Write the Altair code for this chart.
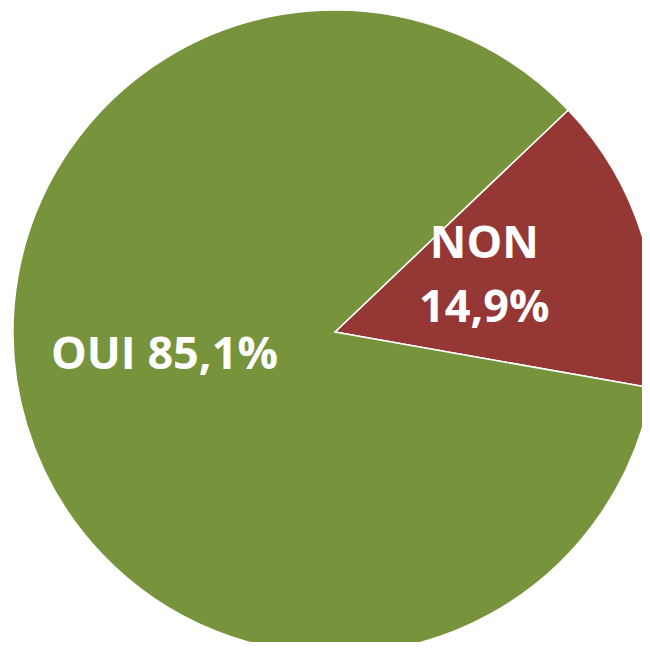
import altair as alt
import pandas as pd
import math

categories = ["NON", "OUI"]
values = [14.9, 85.1]
labels = ["NON\n14,9%", "OUI 85,1%"]
colors = ["#953735", "#77933C"]

df = pd.DataFrame({"cat": categories, "val": values, "label": labels, "order": [0, 1]})

start = math.radians(46.4)
cx, cy, r = 327, 324, 322

base = alt.Chart(df).encode(
    theta=alt.Theta("val:Q", stack=True, scale=alt.Scale(range=[start, start + 2 * math.pi])),
    order=alt.Order("order:Q"),
)

arcs = base.mark_arc(stroke="white", strokeWidth=1.5).encode(
    color=alt.Color("cat:N", scale=alt.Scale(domain=categories, range=colors), legend=None),
    x=alt.value(cx), y=alt.value(cy), radius=alt.value(r),
)

txt_style = dict(font="Open Sans", fontWeight="bold", fontSize=45, color="white",
                 align="center", baseline="middle", lineBreak="\n", lineHeight=64)

non_txt = base.mark_text(**txt_style, dx=0, dy=-43).encode(
    text=alt.condition(alt.datum.cat == "NON", "label:N", alt.value("")),
    x=alt.value(cx), y=alt.value(cy), radius=alt.value(156),
)

oui_txt = base.mark_text(**txt_style, dx=-3, dy=-28).encode(
    text=alt.condition(alt.datum.cat == "OUI", "label:N", alt.value("")),
    x=alt.value(cx), y=alt.value(cy), radius=alt.value(175),
)

chart = alt.layer(arcs, non_txt, oui_txt).properties(
    width=634, height=634, autosize=alt.AutoSizeParams(type="none"), padding=0
).configure_view(stroke=None)

chart.save("out.html", embed_options={"renderer": "svg", "actions": False})
